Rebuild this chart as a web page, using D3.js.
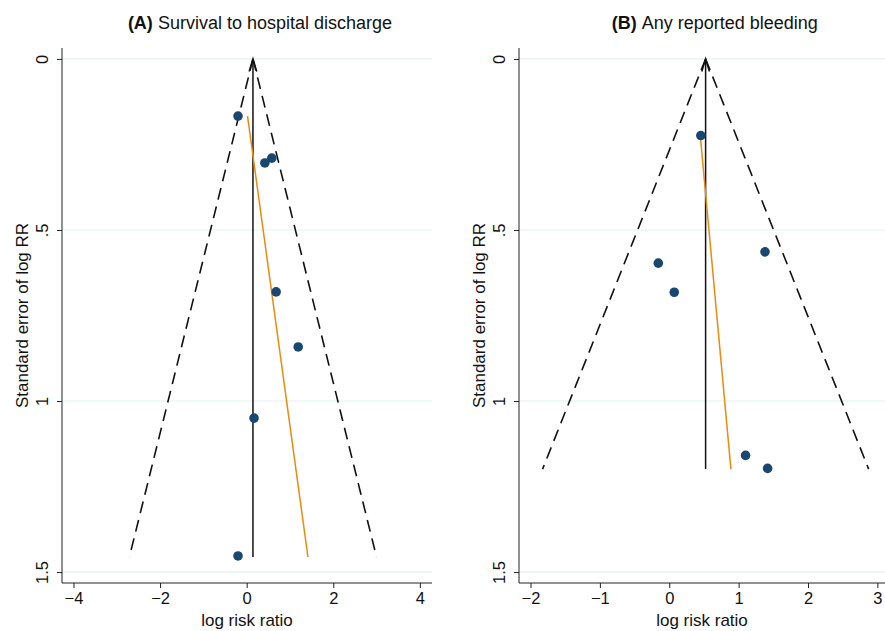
<!DOCTYPE html>
<html>
<head>
<meta charset="utf-8">
<script src="https://cdn.jsdelivr.net/npm/d3@7"></script>
<style>
  body { margin: 0; background: #fff; }
  text { font-family: "Liberation Sans", Arial, sans-serif; fill: #111; }
</style>
</head>
<body>
<div id="chart"></div>
<script>
// panel A: survival to hospital discharge
const studiesA_logRR = [-0.20, 0.42, 0.58, 0.68, 1.19, 0.17, -0.20];
const studiesA_se = [0.167, 0.304, 0.290, 0.681, 0.842, 1.050, 1.453];
const pooledA = 0.145;          // fixed effect estimate
const maxSeA = 1.456;           // bottom of funnel
const eggerA = [[0.02, 0.167], [1.415, 1.456]]; // [logRR, se] endpoints

// panel B: any reported bleeding
const studiesB_logRR = [0.455, 1.38, -0.158, 0.072, 1.10, 1.418];
const studiesB_se = [0.224, 0.564, 0.597, 0.682, 1.159, 1.197];
const pooledB = 0.524;
const maxSeB = 1.199;
const eggerB = [[0.447, 0.224], [0.889, 1.199]];

const yTicks = [0, 0.5, 1, 1.5];
const xTicksA = [-4, -2, 0, 2, 4];
const xTicksB = [-2, -1, 0, 1, 2, 3];

(function () {
  const svg = d3.select('#chart')
    .append('svg')
    .attr('width', 885)
    .attr('height', 631);

  const panels = [
    {
      label: '(A)', title: 'Survival to hospital discharge',
      x: studiesA_logRR, se: studiesA_se, pooled: pooledA, maxSe: maxSeA, egger: eggerA,
      xTicks: xTicksA, xDomain: [-4.265, 4.28], left: 62, right: 432
    },
    {
      label: '(B)', title: 'Any reported bleeding',
      x: studiesB_logRR, se: studiesB_se, pooled: pooledB, maxSe: maxSeB, egger: eggerB,
      xTicks: xTicksB, xDomain: [-2.166, 3.11], left: 519, right: 885
    }
  ];

  const top = 48, bottom = 583;

  panels.forEach(p => drawPanel(p));

  function drawPanel(p) {
    const x = d3.scaleLinear().domain(p.xDomain).range([p.left, p.right]);
    const y = d3.scaleLinear().domain([-0.032, 1.532]).range([top, bottom]);
    const g = svg.append('g');

    // grid lines
    g.selectAll('line.grid')
      .data(yTicks)
      .join('line')
      .attr('x1', p.left).attr('x2', p.right)
      .attr('y1', d => y(d)).attr('y2', d => y(d))
      .attr('stroke', '#e6eff1')
      .attr('stroke-width', 1.2);

    // y axis
    const yAxis = g.append('g')
      .attr('transform', `translate(${p.left},0)`)
      .call(d3.axisLeft(y).tickValues(yTicks).tickSize(5)
        .tickFormat(d => d === 0 ? '0' : d3.format('.1~f')(d).replace(/^0\./, '.')));
    yAxis.select('.domain').attr('d', `M0,${top}V${bottom}`).attr('stroke', '#222');
    yAxis.selectAll('.tick line').attr('stroke', '#222');
    yAxis.selectAll('.tick text')
      .attr('font-size', 16.5)
      .attr('text-anchor', 'middle')
      .attr('x', null)
      .attr('transform', 'translate(-20,0) rotate(-90)')
      .attr('dy', '0.35em');

    // x axis
    const xAxis = g.append('g')
      .attr('transform', `translate(0,${bottom})`)
      .call(d3.axisBottom(x).tickValues(p.xTicks).tickSize(5).tickFormat(d3.format('d')));
    xAxis.select('.domain').attr('d', `M${p.left},0H${p.right}`).attr('stroke', '#222');
    xAxis.selectAll('.tick line').attr('stroke', '#222');
    xAxis.selectAll('.tick text').attr('font-size', 16.5).attr('y', 9);

    // axis titles
    g.append('text')
      .attr('x', (p.left + p.right) / 2).attr('y', 626)
      .attr('text-anchor', 'middle').attr('font-size', 17)
      .text('log risk ratio');
    g.append('text')
      .attr('transform', `translate(${p.left - 40},${(top + bottom) / 2}) rotate(-90)`)
      .attr('text-anchor', 'middle').attr('dy', '0.35em').attr('font-size', 17)
      .text('Standard error of log RR');

    // panel title
    const t = g.append('text')
      .attr('x', p.left + (p.right - p.left) * 0.535).attr('y', 29)
      .attr('text-anchor', 'middle').attr('font-size', 18);
    t.append('tspan').attr('font-weight', 'bold').text(p.label + ' ');
    t.append('tspan').text(p.title);

    // pseudo 95% confidence limits
    const half = 1.96 * p.maxSe;
    const dashed = [
      [[p.pooled, 0], [p.pooled - half, p.maxSe]],
      [[p.pooled, 0], [p.pooled + half, p.maxSe]]
    ];
    const line = d3.line().x(d => x(d[0])).y(d => y(d[1]));
    g.selectAll('path.ci')
      .data(dashed)
      .join('path')
      .attr('d', line)
      .attr('fill', 'none')
      .attr('stroke', '#111')
      .attr('stroke-width', 1.6)
      .attr('stroke-dasharray', '12,7');

    // pooled estimate with arrow
    g.append('line')
      .attr('x1', x(p.pooled)).attr('x2', x(p.pooled))
      .attr('y1', y(0)).attr('y2', y(p.maxSe))
      .attr('stroke', '#111').attr('stroke-width', 1.5);
    g.append('path')
      .attr('d', `M${x(p.pooled) - 3.8},${y(0) + 12.5}L${x(p.pooled)},${y(0)}L${x(p.pooled) + 3.8},${y(0) + 12.5}`)
      .attr('fill', 'none').attr('stroke', '#111').attr('stroke-width', 1.5);

    // Egger regression line
    g.append('path')
      .attr('d', line(p.egger))
      .attr('fill', 'none')
      .attr('stroke', '#ea8a0f')
      .attr('stroke-width', 1.5);

    // studies
    g.selectAll('circle')
      .data(p.x.map((v, i) => [v, p.se[i]]))
      .join('circle')
      .attr('cx', d => x(d[0]))
      .attr('cy', d => y(d[1]))
      .attr('r', 4.8)
      .attr('fill', '#1a476f');
  }
})();
</script>
</body>
</html>
